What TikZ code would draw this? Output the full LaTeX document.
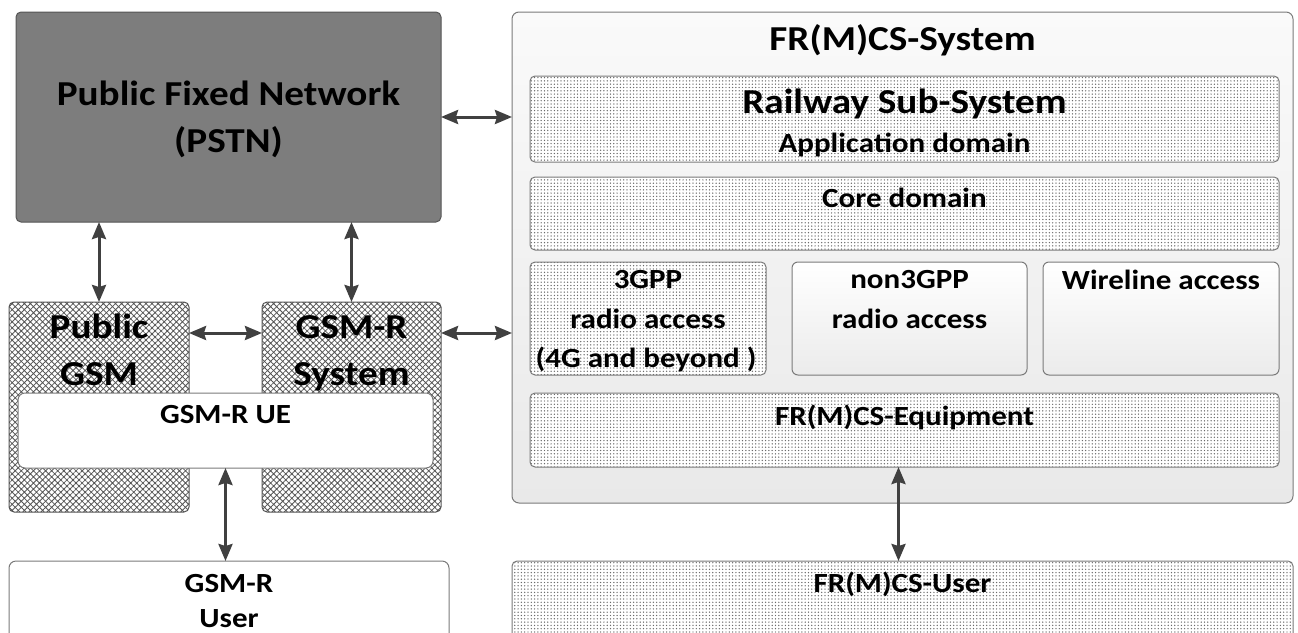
\documentclass[tikz,border=0pt]{standalone}
\usepackage{fontspec}
\setmainfont{Carlito}[FakeStretch=1.12]
\usetikzlibrary{patterns,patterns.meta,arrows.meta,calc}

\definecolor{pstnfill}{HTML}{7D7D7D}
\definecolor{edge}{HTML}{555555}
\definecolor{lightedge}{HTML}{7A7A7A}
\definecolor{hatchc}{HTML}{555555}
\definecolor{dotc}{HTML}{6A6A6A}
\definecolor{arrc}{HTML}{404040}
\definecolor{sysTop}{HTML}{FAFAFA}
\definecolor{sysBot}{HTML}{E9E9E9}
\definecolor{accTop}{HTML}{FFFFFF}
\definecolor{accBot}{HTML}{EBEBEB}

\tikzset{
  box/.style={draw=edge, line width=1pt, rounded corners=5pt, inner sep=0pt, outer sep=0pt},
  dotbox/.style={box, draw=lightedge, preaction={fill=white}, pattern={Dots[distance=3.3pt,radius=0.72pt]}, pattern color=dotc},
  hatchbox/.style={box, preaction={fill=white}, pattern={Hatch[angle=45,distance=4.3pt,line width=0.8pt]}, pattern color=hatchc},
  pstnbox/.style={box, draw=edge, fill=pstnfill},
  sysbox/.style={box, draw=lightedge, rounded corners=7pt, top color=sysTop, bottom color=sysBot},
  accbox/.style={box, draw=lightedge, rounded corners=6pt, top color=accTop, bottom color=accBot},
  whitebox/.style={box, draw=lightedge, rounded corners=7pt, fill=white},
  bigtxt/.style={font=\fontsize{35}{42}\selectfont\bfseries, inner sep=0pt, anchor=base},
  midtxt/.style={font=\fontsize{27.7}{33}\selectfont\bfseries, inner sep=0pt, anchor=base},
  arr/.style={{Stealth[length=17pt,width=14pt,inset=2pt]}-{Stealth[length=17pt,width=14pt,inset=2pt]}, line width=3pt, draw=arrc},
}

\begin{document}
\begin{tikzpicture}[x=1pt,y=-1pt]
\useasboundingbox (0,0) rectangle (1298,632);

% FR(M)CS system
\node[sysbox, minimum width=781pt, minimum height=491pt] (sys) at (902.5,257.5) {};
\node[dotbox, minimum width=749pt, minimum height=86pt] (rail) at (904.5,119) {};
\node[dotbox, minimum width=749pt, minimum height=73pt] (core) at (904.5,213.5) {};
\node[dotbox, minimum width=236pt, minimum height=113pt] (g3) at (648,318.5) {};
\node[accbox, minimum width=235pt, minimum height=113pt] (n3) at (909.5,318.5) {};
\node[accbox, minimum width=236pt, minimum height=113pt] (wl) at (1161,318.5) {};
\node[dotbox, minimum width=749pt, minimum height=74pt] (eq) at (904.5,430) {};

% left side
\node[pstnbox, minimum width=425pt, minimum height=210pt] (pstn) at (228.5,117) {};
\node[hatchbox, minimum width=180pt, minimum height=210pt] (pgsm) at (99,407) {};
\node[hatchbox, minimum width=179pt, minimum height=210pt] (gsys) at (351.5,407) {};
\node[whitebox, minimum width=415pt, minimum height=75pt] (ue) at (225.5,430.5) {};

% users
\node[whitebox, minimum width=440pt, minimum height=89pt] (gu) at (229,605.5) {};
\node[dotbox, minimum width=781pt, minimum height=89pt] (fu) at (902.5,605.5) {};

% connectors
\draw[arr] (pstn.east) -- (pstn.east -| sys.west);
\draw[arr] (pgsm.north |- pstn.south) -- (pgsm.north);
\draw[arr] (gsys.north |- pstn.south) -- (gsys.north);
\coordinate (c4) at ([yshift=-31pt]pgsm.north east);
\draw[arr] (c4) -- (c4 -| gsys.west);
\coordinate (c5) at ([yshift=-31pt]gsys.north east);
\draw[arr] (c5) -- (c5 -| sys.west);
\draw[arr] (ue.south) -- (ue.south |- gu.north);
\coordinate (c7) at ([xshift=-6pt]eq.south);
\draw[arr] (c7) -- (c7 |- fu.north);

% texts
\node[bigtxt] (t-pstn1) at (228.5,105) {Public Fixed Network};
\node[bigtxt] (t-pstn2) at (228.5,152) {(PSTN)};
\node[bigtxt] (t-sys) at (902.5,50) {FR(M)CS-System};
\node[bigtxt] (t-rail1) at (904.5,113) {Railway Sub-System};
\node[midtxt] (t-rail2) at (904.5,152) {Application domain};
\node[midtxt] (t-core) at (904.5,207) {Core domain};
\node[midtxt] (t-g3a) at (648,288) {3GPP};
\node[midtxt] (t-g3b) at (648,328) {radio access};
\node[midtxt] (t-g3c) at (646,367) {(4G and beyond )};
\node[midtxt] (t-n3a) at (909.5,288) {non3GPP};
\node[midtxt] (t-n3b) at (909.5,328) {radio access};
\node[midtxt] (t-wl) at (1161,289) {Wireline access};
\node[midtxt] (t-eq) at (904.5,425) {FR(M)CS-Equipment};
\node[bigtxt] (t-pg1) at (99,338) {Public};
\node[bigtxt] (t-pg2) at (99,385) {GSM};
\node[bigtxt] (t-gs1) at (351.5,338) {GSM-R};
\node[bigtxt] (t-gs2) at (351.5,385) {System};
\node[midtxt] (t-ue) at (225.5,423) {GSM-R UE};
\node[midtxt] (t-gu1) at (229,592) {GSM-R};
\node[midtxt] (t-gu2) at (229,627) {User};
\node[midtxt] (t-fu) at (902.5,592) {FR(M)CS-User};
\end{tikzpicture}
\end{document}
